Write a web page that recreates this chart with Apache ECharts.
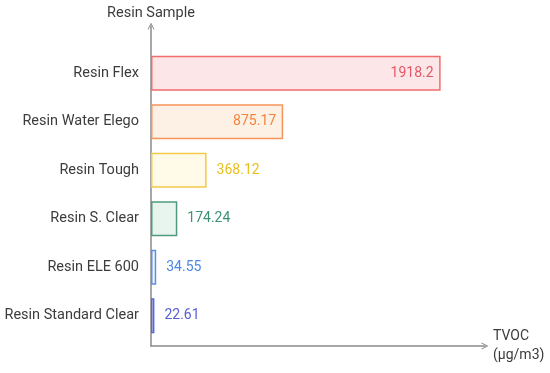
<!DOCTYPE html>
<html><head><meta charset="utf-8">
<script src="https://cdn.jsdelivr.net/npm/echarts@6/dist/echarts.min.js"></script>
<style>html,body{margin:0;padding:0;background:#fff}#c{width:550px;height:373px}</style>
</head><body><div id="c"></div>
<script>
const categories = ["Resin Flex","Resin Water Elego","Resin Tough","Resin S. Clear","Resin ELE 600","Resin Standard Clear"];
const values = [1918.2, 875.17, 368.12, 174.24, 34.55, 22.61];
const valueLabels = ["1918.2","875.17","368.12","174.24","34.55","22.61"];
const xAxisName = "TVOC\n(μg/m3)";
const yAxisName = "Resin Sample";

const borderColors = ["#f36c6c","#f7945a","#f3c94a","#4e9c7c","#5b8fe3","#5a66d6"];
const fillColors = ["#fde6e7","#fdf0e4","#fffbe8","#e7f5ee","#eef4fd","#eef0fb"];
const labelColors = ["#e25866","#f4843f","#e9c11f","#3d9272","#4a87e4","#5661d3"];
const inside = [true, true, false, false, false, false];

const chevron = 'path://M0,10 L5,0 L10,10 L8.6,10 L5,2.8 L1.4,10 Z';
const chart = echarts.init(document.getElementById('c'), null, {renderer:'canvas'});
const font = 'Roboto, "Noto Sans", sans-serif';
chart.setOption({
  animation:false,
  textStyle:{fontFamily:font},
  grid:[
    {left:151, top:49, width:302, height:291, containLabel:false, outerBoundsMode:'none'},
    {left:151, top:26, width:334, height:320, containLabel:false, outerBoundsMode:'none'}
  ],
  xAxis:[
    {gridIndex:0, type:'value', min:0, max:2000, show:false},
    {gridIndex:1, type:'value', min:0, max:1,
     axisLine:{show:true, onZero:false, symbol:['none',chevron], symbolSize:[11,7], lineStyle:{color:'#8a8a8a', width:1.5}},
     axisTick:{show:false}, axisLabel:{show:false}, splitLine:{show:false},
     name:xAxisName, nameLocation:'end', nameGap:8,
     nameTextStyle:{color:'#3c3c3c', fontSize:14, fontFamily:font, align:'left', verticalAlign:'middle', lineHeight:19, padding:[11,0,0,0]}}
  ],
  yAxis:[
    {gridIndex:0, type:'category', data:categories, inverse:true,
     axisLine:{show:false}, axisTick:{show:false}, splitLine:{show:false},
     axisLabel:{color:'#3c3c3c', fontSize:14.5, fontFamily:font, margin:12}},
    {gridIndex:1, type:'value', min:0, max:1,
     axisLine:{show:true, onZero:false, symbol:['none',chevron], symbolSize:[11,7], lineStyle:{color:'#8a8a8a', width:1.5}},
     axisTick:{show:false}, axisLabel:{show:false}, splitLine:{show:false},
     name:yAxisName, nameLocation:'end', nameGap:5,
     nameTextStyle:{color:'#3c3c3c', fontSize:14.5, fontFamily:font, align:'center'}}
  ],
  series:[{
    type:'bar', xAxisIndex:0, yAxisIndex:0, barWidth:35,
    data: values.map((v,i)=>({
      value:v,
      itemStyle:{color:fillColors[i], borderColor:borderColors[i], borderWidth:1.5},
      label:{show:true, position: inside[i] ? 'insideRight' : 'right', distance: inside[i] ? 7 : 10,
        formatter: valueLabels[i], color:labelColors[i], fontSize:14, fontFamily:font}
    }))
  }]
});
</script></body></html>
